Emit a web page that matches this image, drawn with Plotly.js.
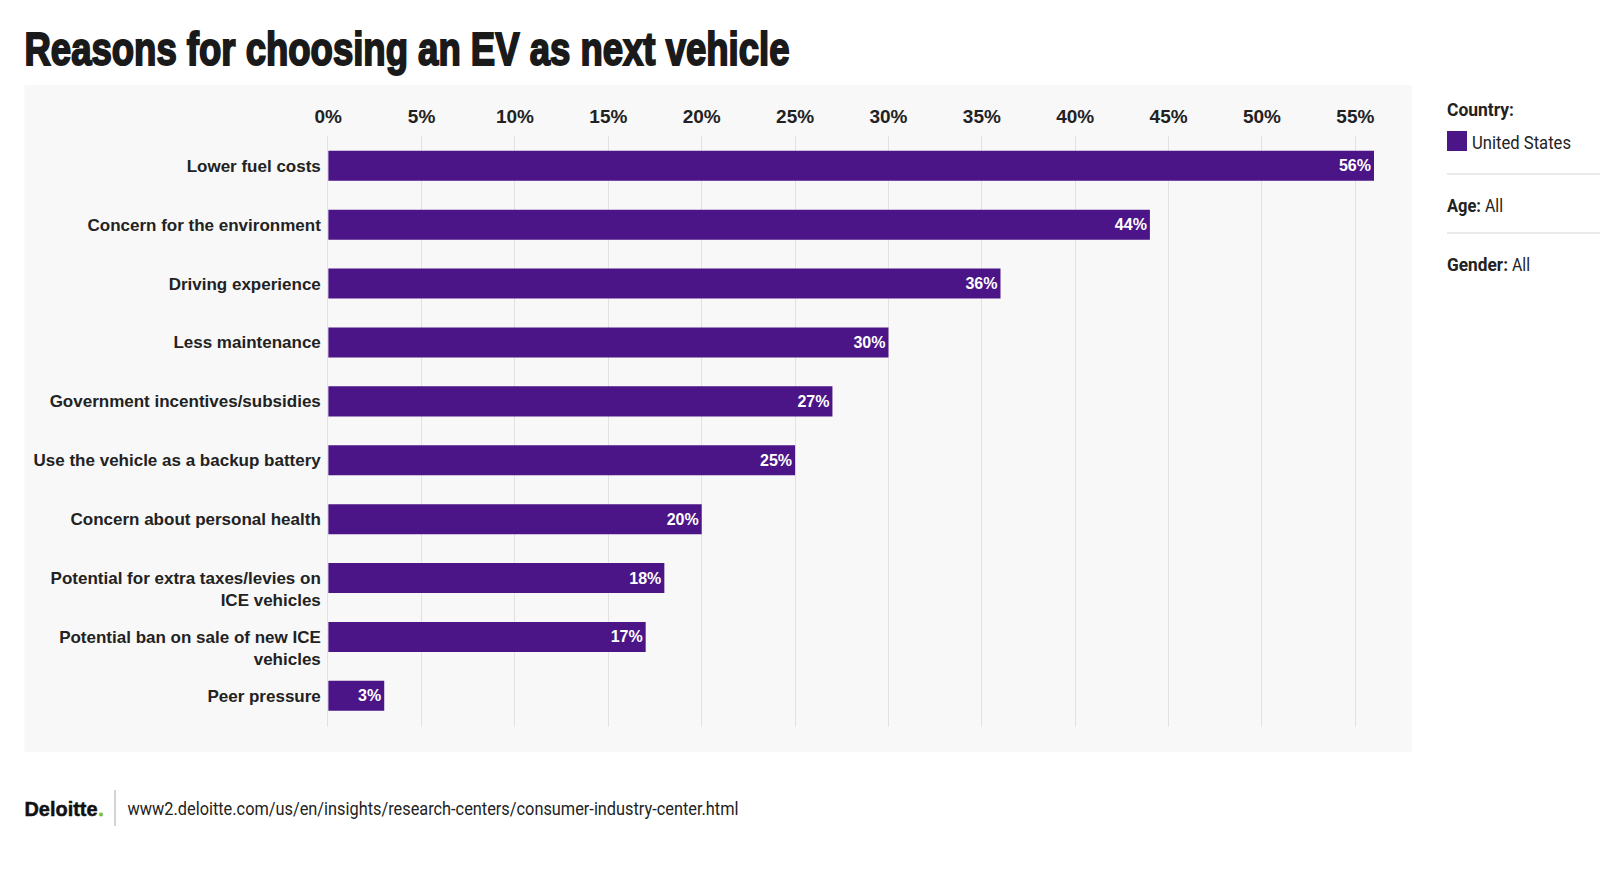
<!DOCTYPE html>
<html><head><meta charset="utf-8">
<script src="https://cdn.plot.ly/plotly-3.0.1.min.js"></script>
<style>html,body{margin:0;padding:0;background:#fff}#c{width:1600px;height:890px}</style></head>
<body><div id="c"></div>
<script>
const categories = ["Lower fuel costs","Concern for the environment","Driving experience","Less maintenance","Government incentives/subsidies","Use the vehicle as a backup battery","Concern about personal health","Potential for extra taxes/levies on ICE vehicles","Potential ban on sale of new ICE vehicles","Peer pressure"];
const categoryLabels = ["Lower fuel costs","Concern for the environment","Driving experience","Less maintenance","Government incentives/subsidies","Use the vehicle as a backup battery","Concern about personal health","<br>Potential for extra taxes/levies on<br>ICE vehicles","<br>Potential ban on sale of new ICE<br>vehicles","Peer pressure"];
const values = [56,44,36,30,27,25,20,18,17,3];
const tickVals = [0,5,10,15,20,25,30,35,40,45,50,55];
const tickLabels = tickVals.map(v=>v+"%");
const purple = "#4b1587";
const W=1600,H=890;
const X=v=>v/W, Y=v=>1-v/H;
const sans = "'Liberation Sans',sans-serif";
const side = "Roboto,sans-serif";
// text items beside the chart: [x, y, text, weight, size, width in px]
const texts=[
 [24.5,48,"Reasons for choosing an EV as next vehicle",900,47,765,"#1a1a1a",sans],
 [1447,109,"Country:",700,19,67,"#222",side],
 [1472,142,"United States",400,19,99,"#222",side],
 [1447,205,"Age:",700,19,34,"#222",side],
 [1485,205,"All",400,19,18,"#222",side],
 [1447,264,"Gender:",700,19,61,"#222",side],
 [1512,264,"All",400,19,18,"#222",side],
 [24.5,808,"Deloitte",700,21,73,"#111",sans],
 [98,808,".",700,21,6,"#86bc25",sans],
 [127.5,808,"www2.deloitte.com/us/en/insights/research-centers/consumer-industry-center.html",400,19,611,"#222",side]
];
const data=[{type:"bar",orientation:"h",y:categories,x:values,marker:{color:purple},width:0.51,
  text:values.map(v=>v+"%"),textposition:"inside",insidetextanchor:"end",constraintext:"none",cliponaxis:false,
  textfont:{family:sans,size:16,color:"#fff",weight:700},hoverinfo:"skip"}];
const layout={width:W,height:H,margin:{l:0,r:0,t:0,b:0},paper_bgcolor:"#fff",plot_bgcolor:"rgba(0,0,0,0)",showlegend:false,
 xaxis:{domain:[328.2/W,1374/W],range:[0,56],side:"top",anchor:"y",tickvals:tickVals,ticktext:tickLabels,ticks:"",showgrid:true,gridcolor:"#e2e2e2",gridwidth:1,zeroline:false,showline:false,
   tickfont:{family:sans,size:19,color:"#222",weight:700},ticklabelstandoff:9},
 yaxis:{domain:[Y(727),Y(136.4)],range:[9.53,-0.5],anchor:"x",type:"category",tickmode:"array",tickvals:categories,ticktext:categoryLabels,ticks:"",showgrid:false,zeroline:false,showline:true,linecolor:"#e2e2e2",
   tickfont:{family:sans,size:17,color:"#222",weight:700},ticklabelstandoff:3},
 shapes:[
  {type:"rect",xref:"paper",yref:"paper",x0:X(24.5),x1:X(1412),y0:Y(85),y1:Y(752),fillcolor:"#f8f8f8",line:{width:0},layer:"below"},
  {type:"rect",xref:"paper",yref:"paper",x0:X(1447),x1:X(1467),y0:Y(131),y1:Y(151),fillcolor:purple,line:{width:0}},
  {type:"line",xref:"paper",yref:"paper",x0:X(1447),x1:X(1600),y0:Y(174),y1:Y(174),line:{color:"#d5d5d5",width:1}},
  {type:"line",xref:"paper",yref:"paper",x0:X(1447),x1:X(1600),y0:Y(233),y1:Y(233),line:{color:"#d5d5d5",width:1}},
  {type:"line",xref:"paper",yref:"paper",x0:X(115),x1:X(115),y0:Y(790),y1:Y(826),line:{color:"#aaa",width:1}}
 ],
 annotations:texts.map(t=>({xref:"paper",yref:"paper",x:X(t[0]),y:Y(t[1]),text:t[2],showarrow:false,xanchor:"left",yanchor:"middle",
   font:{family:t[7],size:t[4],color:t[6],weight:t[3]}}))};
Plotly.newPlot("c",data,layout,{displayModeBar:false,staticPlot:true}).then(()=>{
  const box=document.getElementById("c").getBoundingClientRect();
  document.querySelectorAll("#c .annotation-text").forEach((el,i)=>{
    el.setAttribute("textLength",texts[i][5]);
    el.setAttribute("lengthAdjust","spacingAndGlyphs");
    el.style.textAnchor="start";
    const left=el.getBoundingClientRect().left-box.left;
    el.setAttribute("x",parseFloat(el.getAttribute("x")||0)+texts[i][0]-left);
    if(i===0){el.style.stroke="#1a1a1a";el.style.strokeWidth="2px";}
    if(i===7||i===8){el.style.stroke=texts[i][6];el.style.strokeWidth="0.5px";}
  });
});
</script></body></html>
